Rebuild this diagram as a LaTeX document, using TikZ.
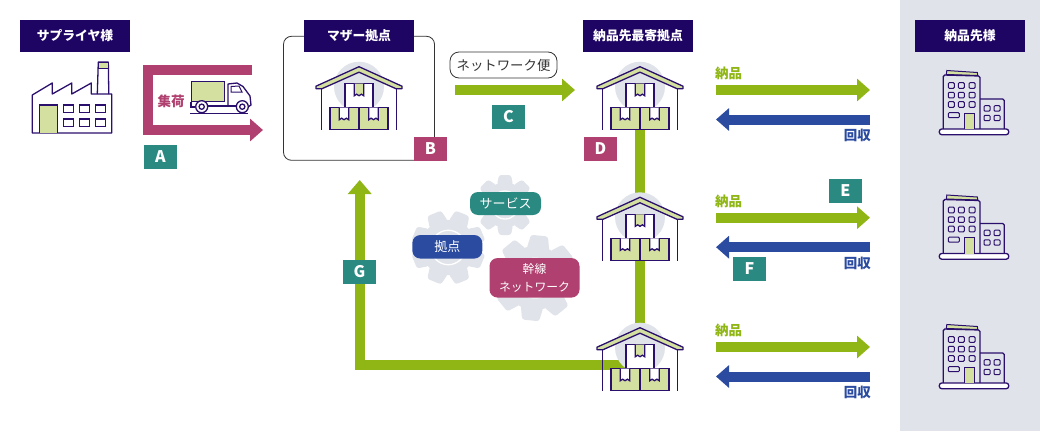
\documentclass[tikz,border=0pt]{standalone}
\usepackage{fontspec}
\setmainfont{Noto Sans CJK JP}
\usetikzlibrary{arrows.meta}
\definecolor{inkline}{HTML}{2A0F6C}
\definecolor{navy}{HTML}{1F0563}
\definecolor{plum}{HTML}{B0406F}
\definecolor{teal}{HTML}{2A8A82}
\definecolor{leaf}{HTML}{8FB615}
\definecolor{deepblue}{HTML}{2A4BA0}
\definecolor{pale}{HTML}{D3E09F}
\definecolor{mist}{HTML}{E0E3E9}
\tikzset{
  titlebox/.style={rectangle, fill=navy, text=white, font=\bfseries\fontsize{12.8}{14}\selectfont, minimum width=110pt, minimum height=32pt, inner sep=0pt},
  tagbox/.style={rectangle, text=white, font=\bfseries\fontsize{16}{18}\selectfont, minimum width=33pt, minimum height=24pt, inner sep=0pt},
  pill/.style={rectangle, rounded corners=8pt, text=white, align=center, font=\fontsize{13}{18}\selectfont, inner sep=0pt},
  flow/.style={line width=10pt, -{Triangle[length=13pt,width=22pt]}},
  ink/.style={draw=inkline, line width=1.3pt},
  thin ink/.style={draw=inkline, line width=1pt},
  warehouse/.pic={
    \fill [mist] (0,20) circle (25);
    \draw [ink] (-37.5,21) -- (-37.5,63.5) (37.5,21) -- (37.5,63.5);
    \draw [ink, fill=pale, line join=round] (0,0) -- (43,19.5) -- (43,22) -- (37,22) -- (0,5.5) -- (-37,22) -- (-43,22) -- (-43,19.5) -- cycle;
    \draw [ink, fill=white] (-14,17) rectangle (14,41);
    \draw [ink, fill=pale] (-4.7,17) -- (-4.7,29) -- (-2.4,27.5) -- (0,29) -- (2.4,27.5) -- (4.7,29) -- (4.7,17);
    \draw [ink, fill=pale] (-29,41) rectangle (0,63);
    \draw [ink, fill=pale] (0,41) rectangle (29,63);
    \foreach \tape in {-15,14.5}{
      \draw [ink, fill=white] (\tape-4.7,41) -- (\tape-4.7,53) -- (\tape-2.4,51.5) -- (\tape,53) -- (\tape+2.4,51.5) -- (\tape+4.7,53) -- (\tape+4.7,41);
    }
  },
  office/.pic={
    \draw [thin ink, fill=pale] (7.5,0.5) -- (38,2.5) -- (38.5,5.5) -- (7,4.5) -- cycle;
    \draw [ink, rounded corners=1.5pt] (4,59) -- (4,5) -- (40.7,6) -- (40.7,59);
    \draw [ink, rounded corners=1.5pt] (40.7,29) -- (65,29) -- (65,59);
    \draw [ink, fill=white, rounded corners=2.5pt] (0,59) rectangle (69.4,64.7);
    \foreach \wy in {12.7,22.3,31.7}{
      \foreach \wx in {9,19,29.7}{
        \draw [thin ink, rounded corners=1pt] (\wx,\wy) rectangle ++(6,5.6);
      }
    }
    \draw [thin ink, rounded corners=1pt] (9,42.7) rectangle (20,47.7);
    \draw [thin ink, fill=pale] (24.7,59) -- (24.7,43.3) -- (35,43.3) -- (35,59);
    \foreach \wy in {35.7,45.3}{
      \foreach \wx in {44.7,54.7}{
        \draw [thin ink, rounded corners=1pt] (\wx,\wy) rectangle ++(6,5.4);
      }
    }
  },
  factory/.pic={
    \draw [ink, line join=round] (65,32) -- (66,0) -- (76,0) -- (76.5,32);
    \draw [thin ink, fill=pale] (66,0) rectangle (76,6.5);
    \draw [ink, line join=round] (0,33) -- (20,21) -- (20,32) -- (39.5,21) -- (39.5,32) -- (59,21) -- (59,32) -- (79.5,32) -- (79.5,71) -- (0,71) -- cycle;
    \draw [ink, fill=pale] (7,71) -- (7,43) -- (25,43) -- (25,71);
    \foreach \wx in {31,47,63}{
      \foreach \wy in {43,57}{
        \draw [ink] (\wx,\wy) rectangle ++(10,7.5);
      }
    }
  },
  truck/.pic={
    \draw [thin ink, fill=pale] (0,0) rectangle (33.3,20);
    \draw [ink, line join=round] (37,24) -- (37,3) -- (46,2) -- (52,5.5) -- (59,15) -- (60,24) -- (57,26);
    \draw [thin ink] (40,5.5) -- (48,5) -- (51,11) -- (40,11) -- cycle;
    \draw [ink] (0,21) -- (0,26) -- (4,26) (17,25) -- (45,25);
    \foreach \wheel in {10.7,51.3}{
      \draw [ink, fill=white] (\wheel,25.7) circle (6);
      \draw [ink] (\wheel,25.7) circle (2.6);
    }
    \draw [ink] (-1,32.4) -- (57,32.4);
  },
  gearwheel/.pic={
    \fill [mist] (0,0) circle (22.5);
    \foreach \tooth in {0,45,...,315}{
      \fill [mist, rotate=\tooth, rounded corners=2.5pt] (-8,-20) -- (-6,-30) -- (6,-30) -- (8,-20) -- cycle;
    }
    \draw [white, line width=1.3pt] (0,0) circle (14);
  },
}
\begin{document}
\begin{tikzpicture}[x=1pt,y=-1pt]
\useasboundingbox (0,0) rectangle (1040,431);
\fill [mist] (900,0) rectangle (1040,431);

% titles
\node (motherframe) [draw=black!80, rectangle, rounded corners=8pt, line width=.8pt, minimum width=151pt, minimum height=124pt] at (359,98.3) {};
\node (supplier) [titlebox] at (75,36) {サプライヤ様};
\node (motherhub) [titlebox, right of=supplier, node distance=284pt] {マザー拠点};
\node (nearhub) [titlebox, right of=motherhub, node distance=279pt] {納品先最寄拠点};
\node (customer) [titlebox, right of=nearhub, node distance=332pt] {納品先様};

% collection arrow
\pic at (32.3,62) {factory};
\coordinate (pickstart) at (252,70);
\coordinate (pickcorner) at (148,100);
\coordinate (pickend) at (263,130);
\draw [flow, plum] (pickstart) -| (pickcorner) |- (pickend);
\pic at (191,81) {truck};
\node (pick) [text=plum, font=\bfseries\fontsize{13.5}{15}\selectfont] at (171,101.5) {集荷};
\node (taga) [tagbox, fill=teal] at (160.5,157) {A};

% mother base
\pic at (359,66.7) {warehouse};
\node (tagb) [tagbox, fill=plum] at (430.5,149) {B};
\node (netlabel) [draw=black!80, rectangle, rounded corners=9pt, line width=.8pt, minimum width=107pt, minimum height=26pt, inner sep=0pt, text=black!80, font=\fontsize{13.4}{15}\selectfont] at (503.5,65) {ネットワーク便};
\coordinate (netstart) at (455,90);
\coordinate (netend) at (575,90);
\draw [flow, leaf] (netstart) -- (netend);
\node (tagc) [tagbox, fill=teal] at (508.5,117) {C};

% near bases
\coordinate (depotone) at (640,66.7);
\coordinate (depottwo) at (640,197.3);
\coordinate (depotthree) at (640,327.7);
\coordinate (returnpoint) at (630,365);
\coordinate (returncorner) at (359.7,365);
\coordinate (returnend) at (359.7,180);
\draw [line width=10pt, leaf] (depotone) -- (depotthree);
\draw [flow, leaf, -{Triangle[length=14pt,width=23pt]}] (returnpoint) -- (returncorner) -- (returnend);
\foreach \depot in {depotone,depottwo,depotthree}{
  \pic at (\depot) {warehouse};
}
\node (tagd) [tagbox, fill=plum] at (600.5,149) {D};
\node (tagg) [tagbox, fill=teal] at (359.5,272) {G};

% gears
\pic [rotate=22.5, scale=1.23] at (448.3,247.5) {gearwheel};
\pic [scale=1.0] at (505,205) {gearwheel};
\pic [rotate=-6, scale=1.42] at (535,278) {gearwheel};
\node (service) [pill, fill=teal, minimum width=71pt, minimum height=23pt] at (505.5,203.5) {サービス};
\node (base) [pill, fill=deepblue, minimum width=70pt, minimum height=23.5pt] at (447.3,246.8) {拠点};
\node (trunk) [pill, fill=plum, minimum width=90pt, minimum height=39.5pt, font=\fontsize{11.8}{18}\selectfont] at (534.5,277.8) {幹線\\ネットワーク};

% deliveries
\foreach \row/\rowy/\rowshift in {one/90/0,two/217.7/124.5,three/347/254}{
  \coordinate (outstart\row) at (716,\rowy);
  \coordinate (outend\row) at (870,\rowy);
  \coordinate (backstart\row) at (870,\rowy+29.5);
  \coordinate (backend\row) at (716,\rowy+29.5);
  \draw [flow, leaf] (outstart\row) -- (outend\row);
  \draw [flow, deepblue] (backstart\row) -- (backend\row);
  \node (deliver\row) [anchor=west, inner sep=0pt, text=leaf, font=\bfseries\fontsize{13.5}{15}\selectfont] at (715,\rowy-16.5) {納品};
  \node (collect\row) [anchor=east, inner sep=0pt, text=deepblue, font=\bfseries\fontsize{13.5}{15}\selectfont] at (871,\rowy+45.5) {回収};
  \pic at (939.3,70+\rowshift) {office};
}
\node (tage) [tagbox, fill=teal] at (845.5,191) {E};
\node (tagf) [tagbox, fill=teal] at (749.5,269) {F};
\end{tikzpicture}
\end{document}
